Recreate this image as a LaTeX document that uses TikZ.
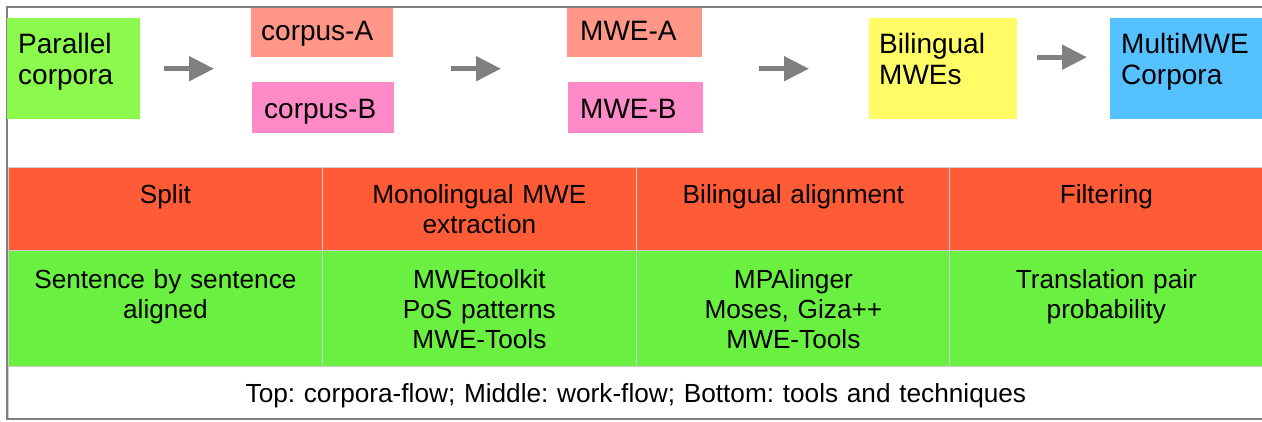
\documentclass[tikz,border=0pt]{standalone}
\usepackage{fontspec}
\setmainfont{Liberation Sans}
\usetikzlibrary{positioning,arrows.meta}
\tikzset{>={Triangle[length=25pt,width=24pt]}}
\frenchspacing
\definecolor{parGreen}{RGB}{140,249,77}
\definecolor{corpA}{RGB}{255,150,136}
\definecolor{corpB}{RGB}{255,138,200}
\definecolor{bilYellow}{RGB}{255,252,102}
\definecolor{multiBlue}{RGB}{86,193,255}
\definecolor{workRed}{RGB}{255,91,54}
\definecolor{toolGreen}{RGB}{106,240,64}
\definecolor{flowGray}{RGB}{128,128,128}
\definecolor{cellLine}{RGB}{205,205,205}

\begin{document}
\begin{tikzpicture}[x=1pt,y=-1pt,
  topbox/.style={anchor=north west,inner ysep=0pt,align=left,font=\fontsize{28}{31}\selectfont},
  tabcell/.style={anchor=north west,inner xsep=7pt,inner ysep=0pt,text width=300pt,align=center,draw=cellLine,line width=.8pt,font=\fontsize{26.2}{30}\selectfont},
  flow/.style={->,draw=flowGray,fill=flowGray,line width=5pt}]
\useasboundingbox (0,0) rectangle (1262,421);
\node[tabcell,fill=workRed,text height=36pt,text depth=47pt] (split) at (8,167) {Split};
\node[tabcell,fill=workRed,text height=36pt,text depth=47pt] (mono) at (322,167) {Monolingual MWE\\extraction};
\node[tabcell,fill=workRed,text height=36pt,text depth=47pt] (bialign) at (636,167) {Bilingual alignment};
\node[tabcell,fill=workRed,text height=36pt,text depth=47pt] (filt) at (949,167) {Filtering};
\node[tabcell,fill=toolGreen,text height=38pt,text depth=78pt] (sent) at (8,250) {Sentence by sentence\\aligned};
\node[tabcell,fill=toolGreen,text height=38pt,text depth=78pt] (mwetk) at (322,250) {MWEtoolkit\\PoS patterns\\MWE-Tools};
\node[tabcell,fill=toolGreen,text height=38pt,text depth=78pt] (mpal) at (636,250) {MPAlinger\\Moses, Giza++\\MWE-Tools};
\node[tabcell,fill=toolGreen,text height=38pt,text depth=78pt] (trans) at (949,250) {Translation pair\\probability};
\node[tabcell,text width=1241pt,text height=36pt,text depth=16pt] (legend) at (8,366) {Top: corpora-flow; Middle: work-flow; Bottom: tools and techniques};
\draw[flowGray,line width=2pt] (1262,6.5) -- (7,6.5) -- (7,419) -- (1262,419);
\node[topbox,fill=parGreen,inner xsep=11pt,text width=111pt,text height=35pt,text depth=66pt] (par) at (7,18) {Parallel\\corpora};
\node[topbox,fill=corpA,inner xsep=10pt,text width=122pt,text height=32pt,text depth=17pt] (corpa) at (251,8) {corpus-A};
\node[topbox,fill=corpB,inner xsep=12pt,text width=118pt,text height=36pt,text depth=15pt] (corpb) at (252,82) {corpus-B};
\node[topbox,fill=corpA,inner xsep=13pt,text width=109pt,text height=32pt,text depth=17pt] (mwea) at (567,8) {MWE-A};
\node[topbox,fill=corpB,inner xsep=12pt,text width=111pt,text height=36pt,text depth=15pt] (mweb) at (568,82) {MWE-B};
\node[topbox,fill=bilYellow,inner xsep=10pt,text width=128pt,text height=35pt,text depth=66pt] (bil) at (869,18) {Bilingual\\MWEs};
\node[topbox,fill=multiBlue,inner xsep=11pt,text width=131pt,text height=35pt,text depth=66pt] (multi) at (1110,18) {MultiMWE\\Corpora};
\draw[flow,shorten <=24pt,shorten >=37pt] (par.east) -- (par.east -| corpa.west);
\draw[flow,shorten <=57pt,shorten >=66pt] (par.east -| corpb.east) -- (par.east -| mwea.west);
\draw[flow,shorten <=56pt,shorten >=60pt] (par.east -| mweb.east) -- (par.east -| bil.west);
\draw[flow,shorten <=20pt,shorten >=23pt] ([yshift=11.5pt]bil.east) -- ([yshift=11.5pt]bil.east -| multi.west);
\end{tikzpicture}
\end{document}
